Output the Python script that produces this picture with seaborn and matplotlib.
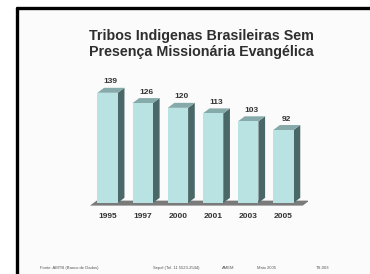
import numpy as np
import pandas as pd
import matplotlib
matplotlib.use("Agg")
import matplotlib.pyplot as plt
from matplotlib.patches import Polygon, Rectangle
import seaborn as sns

# ============================
# DATA
# ============================
years = ["1995", "1997", "2000", "2001", "2003", "2005"]
tribes = [139, 126, 120, 113, 103, 92]
title = "Tribos Indigenas Brasileiras Sem\nPresença Missionária Evangélica"
footer = ["Fonte: AMTB (Banco de Dados)", "Sepal (Tel. 11 5523-2544)", "AMEM", "Maio 2005", "TS-003"]
footer_x = [40, 153, 222, 257, 316]

FRONT = "#b9e2e2"
SIDE = "#4a6868"
TOP = "#86aaaa"
FLOOR = "#7a7a7a"

sns.set_theme(style="white")
plt.rcParams["font.family"] = ["Liberation Sans", "DejaVu Sans"]

W, H = 370, 274
fig = plt.figure(figsize=(W / 100, H / 100), dpi=100)
fig.patch.set_facecolor("white")

# slide background + black frame (left / top edges)
fig.patches.append(Rectangle((17 / W, 0), 1, 1 - 8 / H, transform=fig.transFigure,
                             facecolor="#fbfbfb", edgecolor="none", zorder=-2))
fig.add_artist(plt.Line2D([17 / W, 17 / W], [0, 1 - 8 / H], color="black", lw=2.4))
fig.add_artist(plt.Line2D([17 / W, 1], [1 - 8 / H, 1 - 8 / H], color="black", lw=2.4))

# axes placed in pixels: x 90..308, y (from top) 73..206
ax = fig.add_axes([90 / W, (H - 206) / H, 218 / W, 133 / H])
ax.set_facecolor("none")

df = pd.DataFrame({"ano": years, "tribos": tribes})
sns.barplot(data=df, x="ano", y="tribos", color=FRONT, width=0.58, saturation=1,
            edgecolor="none", ax=ax, zorder=3)

ax.set_xlim(-0.5, 5.7)
ax.set_ylim(-4, 164)

dx, dy = 0.19, 6.3

# floor
ax.add_patch(Polygon([(-0.5, -3.5), (5.55, -3.5), (5.55 + dx, dy - 3.5), (-0.5 + dx, dy - 3.5)],
                     closed=True, facecolor=FLOOR, edgecolor="none", zorder=1))

# 3d faces built from the bar patches
for bar, v in zip(ax.patches[:len(tribes)], tribes):
    x0 = bar.get_x()
    x1 = x0 + bar.get_width()
    h = bar.get_height()
    ax.add_patch(Polygon([(x1, 0), (x1 + dx, dy), (x1 + dx, h + dy), (x1, h)],
                         closed=True, facecolor=SIDE, edgecolor="none", zorder=2))
    ax.add_patch(Polygon([(x0, h), (x1, h), (x1 + dx, h + dy), (x0 + dx, h + dy)],
                         closed=True, facecolor=TOP, edgecolor="none", zorder=2))
    ax.text(x0 + bar.get_width() / 2 + dx / 2, h + dy + 3, str(v), ha="center", va="bottom",
            fontsize=6, fontweight="bold", color="#333333")

ax.set_xlabel("")
ax.set_ylabel("")
ax.set_yticks([])
ax.tick_params(axis="x", length=0, pad=5, labelsize=6, labelcolor="#333333")
for lbl in ax.get_xticklabels():
    lbl.set_fontweight("bold")
sns.despine(ax=ax, left=True, bottom=True)

fig.text(201 / W, 1 - 44 / H, title, ha="center", va="center", fontsize=10.3,
         fontweight="bold", color="#2e2e2e", linespacing=1.2)

for t, x in zip(footer, footer_x):
    fig.text(x / W, 1 - 268 / H, t, ha="left", va="center", fontsize=3, color="#555555")

fig.savefig("out.png", dpi=100)
